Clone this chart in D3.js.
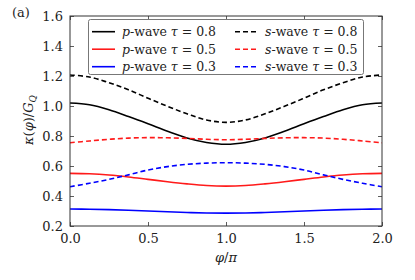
<!DOCTYPE html>
<html>
<head>
<meta charset="utf-8">
<script src="https://cdn.jsdelivr.net/npm/d3@7"></script>
<style>
  body { margin: 0; background: #fff; }
</style>
</head>
<body>
<div id="viz"></div>
<script>
// phi / pi sample points
var phi = [0, 0.125, 0.25, 0.375, 0.5, 0.625, 0.75, 0.875, 1,
           1.125, 1.25, 1.375, 1.5, 1.625, 1.75, 1.875, 2];

// kappa(phi)/G_Q
var pWave08 = [1.020, 1.008, 0.975, 0.930, 0.882, 0.832, 0.787, 0.757, 0.745,
               0.757, 0.787, 0.832, 0.882, 0.930, 0.975, 1.008, 1.020];
var pWave05 = [0.551, 0.548, 0.540, 0.527, 0.511, 0.495, 0.481, 0.470, 0.466,
               0.470, 0.481, 0.495, 0.511, 0.527, 0.540, 0.548, 0.551];
var pWave03 = [0.313, 0.312, 0.309, 0.305, 0.300, 0.295, 0.290, 0.287, 0.286,
               0.287, 0.290, 0.295, 0.300, 0.305, 0.309, 0.312, 0.313];
var sWave08 = [1.207, 1.193, 1.155, 1.108, 1.052, 0.998, 0.948, 0.907, 0.891,
               0.907, 0.948, 0.998, 1.052, 1.108, 1.155, 1.193, 1.207];
var sWave05 = [0.755, 0.767, 0.778, 0.786, 0.789, 0.788, 0.784, 0.778, 0.775,
               0.778, 0.784, 0.788, 0.789, 0.786, 0.778, 0.767, 0.755];
var sWave03 = [0.462, 0.485, 0.511, 0.541, 0.573, 0.596, 0.611, 0.619, 0.622,
               0.619, 0.611, 0.596, 0.573, 0.541, 0.511, 0.485, 0.462];

var xTicks = [0, 0.5, 1, 1.5, 2];
var yTicks = [0.2, 0.4, 0.6, 0.8, 1.0, 1.2, 1.4, 1.6];

var series = [
  { wave: "p", tau: "0.8", values: pWave08, color: "#000000", dashed: false },
  { wave: "p", tau: "0.5", values: pWave05, color: "#ff1a1a", dashed: false },
  { wave: "p", tau: "0.3", values: pWave03, color: "#0000ff", dashed: false },
  { wave: "s", tau: "0.8", values: sWave08, color: "#000000", dashed: true },
  { wave: "s", tau: "0.5", values: sWave05, color: "#ff1a1a", dashed: true },
  { wave: "s", tau: "0.3", values: sWave03, color: "#0000ff", dashed: true }
];

// Liberation Serif gets swapped for a sans face here, DejaVu Serif does not
var FONT = "'DejaVu Serif', serif";

var W = 415, H = 280;
var m = { left: 70, right: 33, top: 16, bottom: 54 };
var iw = W - m.left - m.right, ih = H - m.top - m.bottom;

var svg = d3.select("#viz").append("svg")
  .attr("width", W)
  .attr("height", H)
  .style("font-family", FONT);

var x = d3.scaleLinear().domain([0, 2]).range([m.left, m.left + iw]);
var y = d3.scaleLinear().domain([0.2, 1.6]).range([m.top + ih, m.top]);

svg.append("clipPath").attr("id", "plotclip")
  .append("rect")
  .attr("x", m.left).attr("y", m.top).attr("width", iw).attr("height", ih);

// curves
var line = d3.line()
  .x(function (d, i) { return x(phi[i]); })
  .y(function (d) { return y(d); })
  .curve(d3.curveCatmullRom);

svg.append("g").attr("clip-path", "url(#plotclip)")
  .selectAll("path")
  .data(series)
  .enter().append("path")
  .attr("d", function (s) { return line(s.values); })
  .attr("fill", "none")
  .attr("stroke", function (s) { return s.color; })
  .attr("stroke-width", 1.6)
  .attr("stroke-dasharray", function (s) { return s.dashed ? "5,3" : null; });

// axes, ticks pointing inward on all four sides
function styleAxis(g) {
  g.attr("font-family", null).attr("font-size", 13);
  g.select(".domain").remove();
  g.selectAll(".tick line").attr("stroke", "#333").attr("stroke-width", 0.8);
  g.selectAll(".tick text").attr("fill", "#222");
}

svg.append("g")
  .attr("transform", "translate(0," + (m.top + ih) + ")")
  .call(d3.axisBottom(x).tickValues(xTicks).tickFormat(d3.format(".1f"))
    .tickSizeInner(-4).tickSizeOuter(0).tickPadding(8))
  .call(styleAxis);

svg.append("g")
  .attr("transform", "translate(0," + m.top + ")")
  .call(d3.axisTop(x).tickValues(xTicks).tickFormat("")
    .tickSizeInner(-4).tickSizeOuter(0))
  .call(styleAxis);

svg.append("g")
  .attr("transform", "translate(" + m.left + ",0)")
  .call(d3.axisLeft(y).tickValues(yTicks).tickFormat(d3.format(".1f"))
    .tickSizeInner(-4).tickSizeOuter(0).tickPadding(7))
  .call(styleAxis);

svg.append("g")
  .attr("transform", "translate(" + (m.left + iw) + ",0)")
  .call(d3.axisRight(y).tickValues(yTicks).tickFormat("")
    .tickSizeInner(-4).tickSizeOuter(0))
  .call(styleAxis);

svg.append("rect")
  .attr("x", m.left).attr("y", m.top)
  .attr("width", iw).attr("height", ih)
  .attr("fill", "none")
  .attr("stroke", "#333")
  .attr("stroke-width", 1);

// axis labels
var xl = svg.append("text")
  .attr("x", m.left + iw / 2).attr("y", 262)
  .attr("text-anchor", "middle")
  .attr("fill", "#222")
  .attr("font-size", 13);
xl.append("tspan").attr("font-style", "italic").text("φ");
xl.append("tspan").text("/");
xl.append("tspan").attr("font-style", "italic").text("π");

var yl = svg.append("text")
  .attr("transform", "translate(33," + (m.top + ih / 2 - 1) + ") rotate(-90)")
  .attr("text-anchor", "middle")
  .attr("fill", "#222")
  .attr("font-size", 13);
yl.append("tspan").attr("font-style", "italic").text("κ");
yl.append("tspan").text("(");
yl.append("tspan").attr("font-style", "italic").text("φ");
yl.append("tspan").text(")/");
yl.append("tspan").attr("font-style", "italic").text("G");
yl.append("tspan").attr("font-style", "italic").attr("font-size", 9).attr("dy", 3).text("Q");

svg.append("text")
  .attr("x", 12).attr("y", 17)
  .attr("fill", "#222")
  .attr("font-size", 13)
  .text("(a)");

// legend
var lg = svg.append("g");
lg.append("rect")
  .attr("x", 88.5).attr("y", 19.5)
  .attr("width", 275).attr("height", 55)
  .attr("rx", 2)
  .attr("fill", "#fff")
  .attr("stroke", "#777")
  .attr("stroke-width", 1);

var items = lg.selectAll("g.item")
  .data(series)
  .enter().append("g")
  .attr("class", "item")
  .attr("transform", function (s, i) {
    var row = i % 3;
    return "translate(" + (s.dashed ? 235 : 92) + "," + (31.7 + row * 17.5) + ")";
  });

items.append("line")
  .attr("x1", 0).attr("x2", function (s) { return s.dashed ? 21 : 23; })
  .attr("y1", 0).attr("y2", 0)
  .attr("stroke", function (s) { return s.color; })
  .attr("stroke-width", 1.6)
  .attr("stroke-dasharray", function (s) { return s.dashed ? "5,3" : null; });

var lt = items.append("text")
  .attr("x", 30)
  .attr("y", 4.5)
  .attr("fill", "#222")
  .attr("font-size", 12.5);
lt.append("tspan").attr("font-style", "italic").text(function (s) { return s.wave; });
lt.append("tspan").text("-wave ");
lt.append("tspan").attr("font-style", "italic").text("τ");
lt.append("tspan").text(function (s) { return " = " + s.tau; });
</script>
</body>
</html>
